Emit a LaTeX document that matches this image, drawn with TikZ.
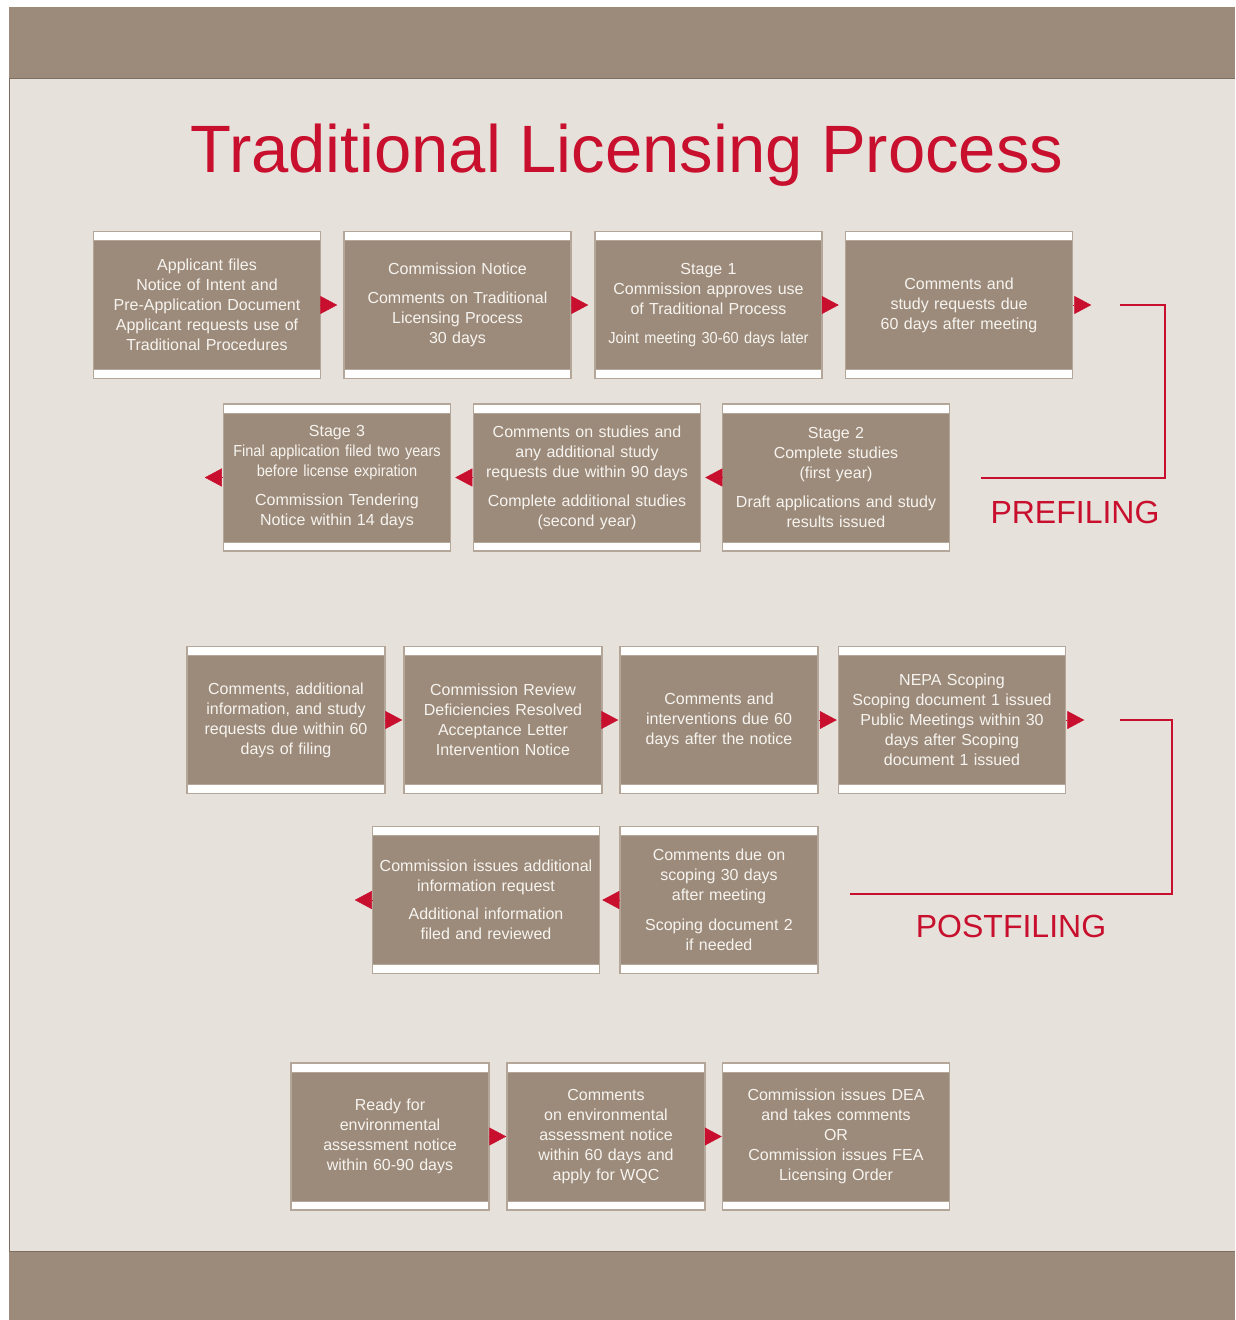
\documentclass[tikz,border=0pt]{standalone}
\usepackage{fontspec}
\setmainfont{Liberation Sans}
\newfontfamily\narrowsf[FakeStretch=0.91]{Liberation Sans}
\usetikzlibrary{arrows.meta}
\definecolor{pagebg}{HTML}{E6E2DB}
\definecolor{boxbrown}{HTML}{9C8B7A}
\definecolor{bandline}{HTML}{7D6E60}
\definecolor{boxline}{HTML}{B4A799}
\definecolor{licred}{HTML}{C8102E}
\definecolor{boxtext}{HTML}{F7F4F0}

\begin{document}
\begin{tikzpicture}[x=1pt,y=-1pt,
  stepbox/.style={draw=boxline, line width=1.5pt, fill=boxbrown, text=boxtext,
    align=center, inner sep=0pt, minimum height=147pt,
    font=\fontsize{16}{20}\selectfont,
    path picture={
      \fill[white] (path picture bounding box.north west)
        rectangle ([yshift=-9pt]path picture bounding box.north east);
      \fill[white] (path picture bounding box.south west)
        rectangle ([yshift=9pt]path picture bounding box.south east);
      \draw[boxline, line width=0.8pt] ([yshift=-9pt]path picture bounding box.north west)
        -- ([yshift=-9pt]path picture bounding box.north east);
      \draw[boxline, line width=0.8pt] ([yshift=9pt]path picture bounding box.south west)
        -- ([yshift=9pt]path picture bounding box.south east);}},
  widebox/.style={stepbox, minimum width=227pt, text width=220pt},
  narrowbox/.style={stepbox, minimum width=198pt, text width=192pt},
  flowtip/.style={-{Triangle[length=17pt,width=18pt]}, draw=licred, fill=licred, line width=0.5pt},
  bracket/.style={draw=licred, line width=2.5pt},
  phase/.style={text=licred, font=\fontsize{32}{36}\selectfont, anchor=base}]

  \useasboundingbox (0,0) rectangle (1235,1320);
  \fill[white] (0,0) rectangle (1235,1320);
  \fill[pagebg] (9,7) rectangle (1235,1320);
  \draw[bandline, line width=1pt] (9,1320) -- (9,7) -- (1235,7);
  \fill[boxbrown] (9,7) rectangle (1235,78);
  \draw[bandline, line width=1pt] (9,78) -- (1235,78);
  \fill[boxbrown] (9,1251) rectangle (1235,1320);
  \draw[bandline, line width=1pt] (9,1251) -- (1235,1251);

  \node[text=licred, font=\fontsize{67}{70}\selectfont, anchor=base] (title) at (627,172)
    {Traditional Licensing Process};

  \node[widebox] (a1) at (207,305) {Applicant files\\Notice of Intent and\\Pre-Application Document\\Applicant requests use of\\Traditional Procedures};
  \node[widebox] (a2) at (457.5,305) {Commission Notice\\[9pt]Comments on Traditional\\Licensing Process\\30 days};
  \node[widebox] (a3) at (708.5,305) {Stage 1\\Commission approves use\\of Traditional Process\\[9pt]{\narrowsf Joint meeting 30-60 days later}};
  \node[widebox] (a4) at (959,305) {Comments and\\study requests due\\60 days after meeting};

  \node[widebox] (b1) at (337,477.5) {Stage 3\\{\narrowsf Final application filed two years}\\{\narrowsf before license expiration}\\[9pt]Commission Tendering\\Notice within 14 days};
  \node[widebox] (b2) at (587,477.5) {Comments on studies and\\any additional study\\requests due within 90 days\\[9pt]Complete additional studies\\(second year)};
  \node[widebox] (b3) at (836,477.5) {Stage 2\\Complete studies\\(first year)\\[9pt]Draft applications and study\\results issued};

  \node[narrowbox] (c1) at (286,720) {Comments, additional\\information, and study\\requests due within 60\\days of filing};
  \node[narrowbox] (c2) at (503,720) {Commission Review\\Deficiencies Resolved\\Acceptance Letter\\Intervention Notice};
  \node[narrowbox] (c3) at (719,720) {Comments and\\interventions due 60\\days after the notice};
  \node[widebox] (c4) at (952,720) {NEPA Scoping\\Scoping document 1 issued\\Public Meetings within 30\\days after Scoping\\document 1 issued};

  \node[widebox] (d1) at (486,900) {Commission issues additional\\information request\\[8pt]Additional information\\filed and reviewed};
  \node[narrowbox] (d2) at (719,900) {Comments due on\\scoping 30 days\\after meeting\\[10pt]Scoping document 2\\if needed};

  \node[narrowbox] (e1) at (390,1136.5) {Ready for\\environmental\\assessment notice\\within 60-90 days};
  \node[narrowbox] (e2) at (606,1136.5) {Comments\\on environmental\\assessment notice\\within 60 days and\\apply for WQC};
  \node[widebox] (e3) at (836,1136.5) {Commission issues DEA\\and takes comments\\OR\\Commission issues FEA\\Licensing Order};

  \draw[flowtip, shorten >=6pt] (a1.east) -- (a2.west);
  \draw[flowtip, shorten >=6pt] (a2.east) -- (a3.west);
  \draw[flowtip, shorten >=6pt] (a3.east) -- (a4.west);
  \draw[flowtip] (a4.east) -- ++(18,0);
  \draw[flowtip, shorten >=4pt] (b3.west) -- (b2.east);
  \draw[flowtip, shorten >=4pt] (b2.west) -- (b1.east);
  \draw[flowtip] (b1.west) -- ++(-18,0);
  \draw[flowtip, shorten >=1pt] (c1.east) -- (c2.west);
  \draw[flowtip, shorten >=1pt] (c2.east) -- (c3.west);
  \draw[flowtip, shorten >=1pt] (c3.east) -- (c4.west);
  \draw[flowtip] (c4.east) -- ++(18,0);
  \draw[flowtip, shorten >=2pt] (d2.west) -- (d1.east);
  \draw[flowtip] (d1.west) -- ++(-17,0);
  \draw[flowtip] (e1.east) -- (e2.west);
  \draw[flowtip] (e2.east) -- (e3.west);

  \coordinate (pre1) at (1120,305);
  \coordinate (pre2) at (981,478);
  \draw[bracket] (pre1) -- (1165,305) -- (1165,478) -- (pre2);
  \node[phase] (prefiling) at (1075,523) {PREFILING};

  \coordinate (post1) at (1120,720);
  \coordinate (post2) at (850,894);
  \draw[bracket] (post1) -- (1172,720) -- (1172,894) -- (post2);
  \node[phase] (postfiling) at (1011,937) {POSTFILING};
\end{tikzpicture}
\end{document}
